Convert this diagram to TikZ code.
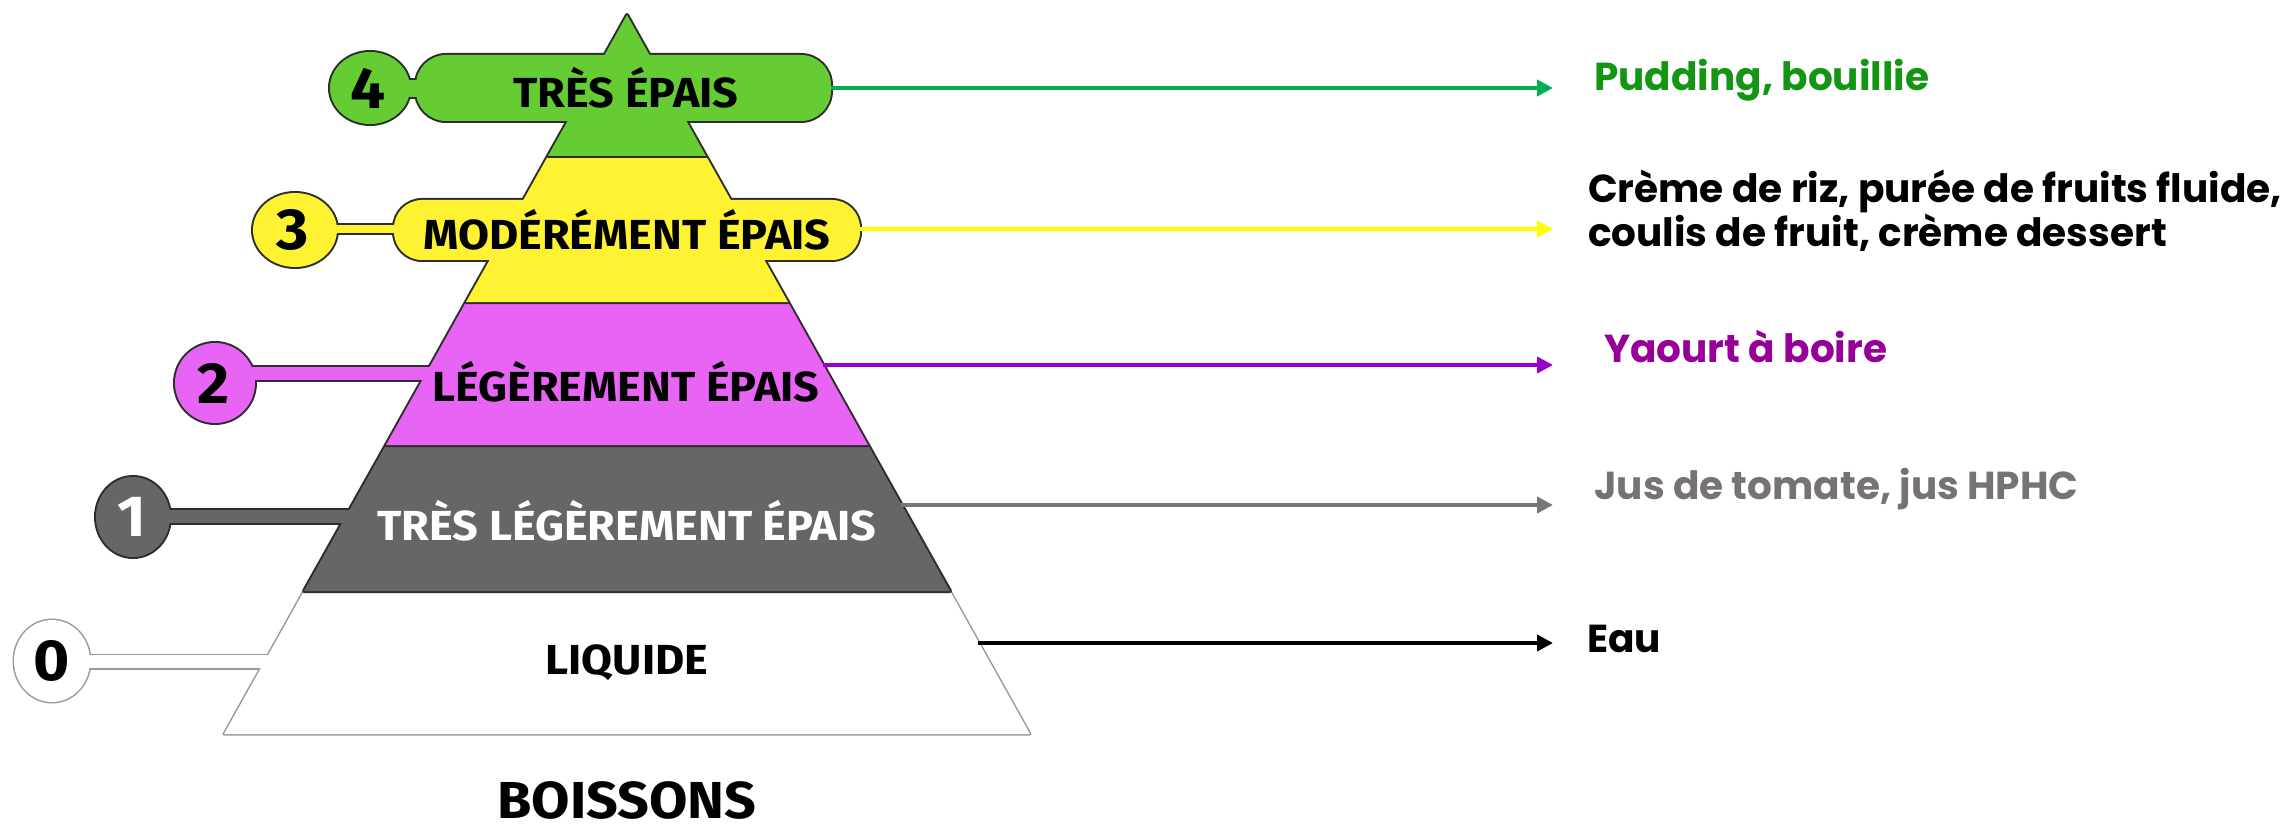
\documentclass[tikz,border=0pt]{standalone}
\usepackage{fontspec}
\setmainfont{Fira Sans}
\newfontfamily\cfont[FakeStretch=1.07]{Fira Sans}
\newfontfamily\rfont{Poppins}
\usetikzlibrary{arrows.meta}
\definecolor{edge}{RGB}{45,45,45}
\definecolor{cfour}{RGB}{102,204,51}
\definecolor{cthree}{RGB}{255,242,50}
\definecolor{ctwo}{RGB}{232,100,245}
\definecolor{cone}{RGB}{102,102,102}
\definecolor{afour}{RGB}{0,176,80}
\definecolor{athree}{RGB}{255,255,0}
\definecolor{atwo}{RGB}{153,0,204}
\definecolor{aone}{RGB}{119,119,119}
\definecolor{tfour}{RGB}{20,150,20}
\definecolor{ttwo}{RGB}{150,0,150}
\definecolor{tone}{RGB}{120,115,115}
\tikzset{
  outl/.style={draw=edge, line width=4pt, line join=round},
  outw/.style={draw=gray!80, line width=3pt, line join=round},
  lbl/.style={font=\cfont\bfseries\fontsize{42}{42}\selectfont, inner sep=0pt},
  num/.style={font=\cfont\bfseries\fontsize{58}{58}\selectfont, inner sep=0pt},
  conn/.style={line width=4pt, -{Triangle[length=16pt,width=16pt]}},
  rtxt/.style={font=\rfont\bfseries\fontsize{39}{44}\selectfont, anchor=west, inner sep=0pt, align=left},
}
\begin{document}
\begin{tikzpicture}[x=1pt,y=-1pt]
\useasboundingbox (0,0) rectangle (2287,829);
% ---- level 0 (white)
\path[outw] (304,591) -- (950,591) -- (1030,734) -- (224,734) -- cycle;
\path[outw] (52,661) ellipse [x radius=38, y radius=41];
\path[outw] (85,655) rectangle (280,668);
\path[fill=white] (304,591) -- (950,591) -- (1030,734) -- (224,734) -- cycle;
\path[fill=white] (52,661) ellipse [x radius=38, y radius=41];
\path[fill=white] (85,655) rectangle (280,668);
% ---- level 1 (gray)
\path[outl] (386,445) -- (868,445) -- (950,591) -- (304,591) -- cycle;
\path[outl] (133,517) ellipse [x radius=37, y radius=40];
\path[outl] (165,510) rectangle (360,523);
\path[fill=cone] (386,445) -- (868,445) -- (950,591) -- (304,591) -- cycle;
\path[fill=cone] (133,517) ellipse [x radius=37, y radius=40];
\path[fill=cone] (165,510) rectangle (360,523);
% ---- level 2 (magenta)
\path[outl] (466,302) -- (788,302) -- (868,445) -- (386,445) -- cycle;
\path[outl] (215,383) ellipse [x radius=40, y radius=40];
\path[outl] (250,367) rectangle (440,380);
\path[fill=ctwo] (466,302) -- (788,302) -- (868,445) -- (386,445) -- cycle;
\path[fill=ctwo] (215,383) ellipse [x radius=40, y radius=40];
\path[fill=ctwo] (250,367) rectangle (440,380);
% ---- level 3 (yellow)
\path[outl] (548,156) -- (706,156) -- (788,302) -- (466,302) -- cycle;
\path[outl, rounded corners=28pt] (394,200) rectangle (860,260);
\path[outl] (295,230) ellipse [x radius=42, y radius=37];
\path[outl] (330,225) rectangle (405,233);
\path[fill=cthree] (548,156) -- (706,156) -- (788,302) -- (466,302) -- cycle;
\path[fill=cthree, rounded corners=28pt] (394,200) rectangle (860,260);
\path[fill=cthree] (295,230) ellipse [x radius=42, y radius=37];
\path[fill=cthree] (330,225) rectangle (405,233);
% ---- level 4 (green)
\path[outl] (627,15) -- (706,156) -- (548,156) -- cycle;
\path[outl, rounded corners=30pt] (416,55) rectangle (831,121);
\path[outl] (370,88) ellipse [x radius=40, y radius=36];
\path[outl] (400,80) rectangle (425,97);
\path[fill=cfour] (627,15) -- (706,156) -- (548,156) -- cycle;
\path[fill=cfour, rounded corners=30pt] (416,55) rectangle (831,121);
\path[fill=cfour] (370,88) ellipse [x radius=40, y radius=36];
\path[fill=cfour] (400,80) rectangle (425,97);
% ---- labels
\node[lbl] (l4) at (626,88) {TRÈS ÉPAIS};
\node[lbl] (l3) at (627,230) {MODÉRÉMENT ÉPAIS};
\node[lbl] (l2) at (626,382) {LÉGÈREMENT ÉPAIS};
\node[lbl, text=white] (l1) at (627,521) {TRÈS LÉGÈREMENT ÉPAIS};
\node[lbl] (l0) at (627,663) {LIQUIDE};
\node[lbl, font=\cfont\bfseries\fontsize{52}{52}\selectfont] (boi) at (627,800) {BOISSONS};
\node[num] (n4) at (368,88) {4};
\node[num] (n3) at (293,230) {3};
\node[num] (n2) at (214,383) {2};
\node[num, text=white] (n1) at (132,517) {1};
\node[num] (n0) at (52,661) {0};
% ---- arrows
\coordinate (s4) at (831,88);  \coordinate (e4) at (1553,88);
\coordinate (s3) at (860,229); \coordinate (e3) at (1553,229);
\coordinate (s2) at (823,365); \coordinate (e2) at (1553,365);
\coordinate (s1) at (901,505); \coordinate (e1) at (1553,505);
\coordinate (s0) at (978,643); \coordinate (e0) at (1553,643);
\draw[conn, afour] (s4) -- (e4);
\draw[conn, athree] (s3) -- (e3);
\draw[conn, atwo] (s2) -- (e2);
\draw[conn, aone] (s1) -- (e1);
\draw[conn, black] (s0) -- (e0);
% ---- right texts
\node[rtxt, text=tfour] (t4) at (1594,80) {Pudding, bouillie};
\node[rtxt] (t3) at (1588,211) {Crème de riz, purée de fruits fluide,\\coulis de fruit, crème dessert};
\node[rtxt, text=ttwo] (t2) at (1604,346) {Yaourt à boire};
\node[rtxt, text=tone] (t1) at (1594,489) {Jus de tomate, jus HPHC};
\node[rtxt] (t0) at (1587,639) {Eau};
\end{tikzpicture}
\end{document}
